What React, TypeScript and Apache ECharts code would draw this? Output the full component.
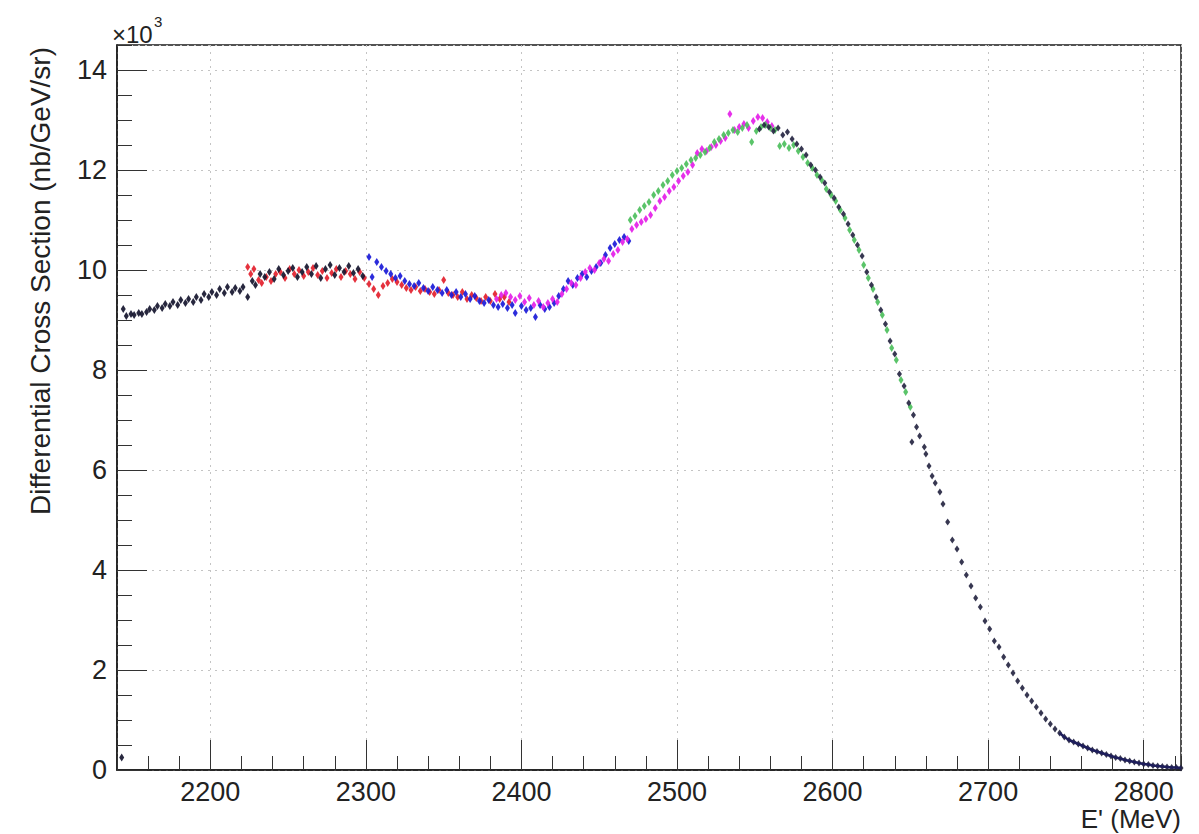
import React, { useEffect, useRef } from "react";
import * as echarts from "echarts";

const X_MIN = 2140;
const X_MAX = 2824;
const Y_MIN = 0;
const Y_MAX = 14.5;
const Y_TICK_STEP = 2;
const Y_MINOR_STEP = 0.5;
const X_MINOR_STEP = 20;

const xTitle = "E' (MeV)";
const yTitle = "Differential Cross Section (nb/GeV/sr)";
const yExponentBase = "\u00d710";
const yExponent = "3";

// values in units of 10^3 nb/GeV/sr
const blackLeft: [number, number][] = [
  [2143, 0.25],
  [2144, 9.22], [2146, 9.08], [2149, 9.12], [2151, 9.1], [2154, 9.14], [2156, 9.12], [2159, 9.16],
  [2161, 9.22], [2164, 9.2], [2166, 9.28], [2169, 9.24], [2171, 9.32], [2174, 9.28], [2176, 9.36],
  [2179, 9.3], [2181, 9.4], [2184, 9.34], [2186, 9.42], [2189, 9.36], [2191, 9.46], [2194, 9.4],
  [2196, 9.52], [2199, 9.46], [2201, 9.56], [2204, 9.5], [2206, 9.62], [2209, 9.54], [2211, 9.66],
  [2214, 9.56], [2216, 9.64], [2219, 9.58], [2221, 9.66], [2224, 9.46], [2227, 9.78], [2229, 9.7],
  [2232, 9.92], [2235, 9.86], [2238, 9.96], [2241, 9.82], [2244, 10.02], [2247, 9.9], [2250, 9.98],
  [2253, 10.04], [2256, 9.86], [2259, 9.96], [2262, 10.06], [2265, 9.92], [2268, 10.08], [2271, 9.84],
  [2274, 10.02], [2277, 10.1], [2280, 9.9], [2283, 10.04], [2286, 9.96], [2289, 10.08], [2292, 9.94],
  [2295, 10.02], [2298, 9.88],
];

const redSet: [number, number][] = [
  [2224, 10.06], [2226, 9.92], [2228, 10.02], [2231, 9.8], [2233, 9.74], [2236, 9.86], [2239, 9.78],
  [2242, 9.92], [2245, 9.96], [2248, 9.84], [2251, 10.02], [2254, 9.92], [2257, 10.0], [2260, 9.88],
  [2263, 9.96], [2266, 10.04], [2269, 9.9], [2272, 9.98], [2275, 9.84], [2278, 9.94], [2281, 10.02],
  [2284, 9.86], [2287, 9.98], [2290, 9.92], [2293, 9.82], [2296, 9.96], [2299, 9.84], [2302, 9.72],
  [2305, 9.62], [2308, 9.5], [2311, 9.68], [2314, 9.74], [2317, 9.82], [2320, 9.76], [2323, 9.7],
  [2326, 9.64], [2329, 9.6], [2332, 9.66], [2335, 9.58], [2338, 9.62], [2341, 9.56], [2344, 9.52],
  [2347, 9.6], [2350, 9.8], [2353, 9.54], [2356, 9.5], [2359, 9.46], [2362, 9.56], [2365, 9.42],
  [2368, 9.5], [2371, 9.44], [2374, 9.38], [2377, 9.46], [2380, 9.38], [2383, 9.52], [2386, 9.42],
  [2389, 9.46], [2392, 9.36],
];

const blueSet: [number, number][] = [
  [2302, 10.26], [2304, 9.86], [2307, 10.16], [2310, 10.06], [2313, 9.98], [2316, 9.92], [2319, 9.84],
  [2322, 9.88], [2325, 9.78], [2328, 9.72], [2331, 9.68], [2334, 9.74], [2337, 9.64], [2340, 9.58],
  [2343, 9.66], [2346, 9.6], [2349, 9.54], [2352, 9.6], [2355, 9.5], [2358, 9.56], [2361, 9.46],
  [2364, 9.52], [2367, 9.42], [2370, 9.48], [2373, 9.38], [2376, 9.34], [2379, 9.4], [2382, 9.3],
  [2385, 9.26], [2388, 9.32], [2391, 9.24], [2394, 9.3], [2396, 9.14], [2400, 9.28], [2403, 9.2],
  [2406, 9.24], [2409, 9.06], [2412, 9.3], [2415, 9.22], [2418, 9.26], [2421, 9.34], [2424, 9.48],
  [2427, 9.62], [2430, 9.78], [2433, 9.7], [2436, 9.84], [2439, 9.92], [2442, 9.86], [2445, 9.98],
  [2448, 10.06], [2451, 10.14], [2454, 10.3], [2457, 10.44], [2460, 10.52], [2463, 10.6], [2466, 10.66],
  [2469, 10.58],
];

const magentaSet: [number, number][] = [
  [2384, 9.42], [2387, 9.5], [2390, 9.54], [2393, 9.46], [2396, 9.4], [2399, 9.48], [2402, 9.36],
  [2405, 9.44], [2408, 9.3], [2411, 9.38], [2414, 9.26], [2417, 9.34], [2420, 9.42], [2423, 9.36],
  [2426, 9.52], [2429, 9.62], [2432, 9.74], [2435, 9.7], [2438, 9.84], [2441, 9.96], [2444, 10.04],
  [2447, 10.0], [2450, 10.14], [2453, 10.22], [2456, 10.18], [2459, 10.32], [2462, 10.4], [2465, 10.56],
  [2468, 10.62], [2471, 10.82], [2474, 10.9], [2477, 10.96], [2480, 11.02], [2483, 11.1], [2486, 11.24],
  [2489, 11.38], [2492, 11.46], [2495, 11.58], [2498, 11.66], [2501, 11.78], [2504, 11.88], [2507, 11.96],
  [2510, 12.1], [2513, 12.34], [2516, 12.42], [2519, 12.38], [2522, 12.46], [2525, 12.5], [2528, 12.58],
  [2531, 12.64], [2534, 13.12], [2537, 12.8], [2540, 12.86], [2543, 12.92], [2546, 12.84], [2549, 12.98],
  [2552, 13.06], [2555, 13.04], [2558, 12.96], [2561, 12.88],
];

const greenSet: [number, number][] = [
  [2470, 11.0], [2473, 11.08], [2476, 11.2], [2479, 11.28], [2482, 11.36], [2485, 11.5], [2488, 11.58],
  [2491, 11.7], [2494, 11.78], [2497, 11.9], [2500, 11.98], [2503, 12.04], [2506, 12.12], [2509, 12.2],
  [2512, 12.24], [2515, 12.3], [2518, 12.36], [2521, 12.44], [2524, 12.56], [2527, 12.62], [2530, 12.7],
  [2533, 12.74], [2536, 12.8], [2539, 12.76], [2542, 12.84], [2545, 12.9], [2548, 12.56], [2551, 12.78],
  [2554, 12.86], [2557, 12.9], [2560, 12.84], [2563, 12.8], [2566, 12.48], [2569, 12.52], [2572, 12.44],
  [2575, 12.5], [2578, 12.38], [2581, 12.26], [2584, 12.14], [2587, 12.04], [2590, 11.9], [2593, 11.8],
  [2596, 11.62], [2599, 11.5], [2602, 11.38], [2605, 11.2], [2608, 11.04], [2611, 10.8], [2614, 10.6],
  [2617, 10.4], [2620, 10.1], [2623, 9.84], [2626, 9.62], [2629, 9.36], [2632, 9.1], [2635, 8.8],
  [2638, 8.44], [2641, 8.2], [2644, 7.8], [2647, 7.56], [2650, 7.26],
];

const darkRight: [number, number][] = [
  [2553, 12.82], [2556, 12.9], [2559, 12.86], [2562, 12.78], [2565, 12.84], [2568, 12.7], [2571, 12.76],
  [2574, 12.62], [2577, 12.52], [2580, 12.42], [2583, 12.3], [2586, 12.1], [2589, 12.0], [2592, 11.86],
  [2595, 11.74], [2598, 11.56], [2601, 11.44], [2604, 11.26], [2607, 11.12], [2610, 10.92], [2613, 10.7],
  [2616, 10.5], [2619, 10.28], [2622, 9.96], [2625, 9.7], [2628, 9.46], [2631, 9.2], [2634, 8.92],
  [2637, 8.58], [2640, 8.32], [2643, 7.92], [2646, 7.68], [2649, 7.34], [2651, 6.56], [2652, 7.1],
  [2654, 6.86], [2656, 6.68], [2659, 6.46], [2660, 6.32], [2662, 6.08], [2664, 5.88], [2666, 5.74],
  [2669, 5.56], [2671, 5.32], [2674, 4.96], [2677, 4.6], [2680, 4.42], [2683, 4.16], [2686, 3.9],
  [2689, 3.68], [2692, 3.44], [2695, 3.26], [2698, 2.98], [2701, 2.82], [2704, 2.58], [2707, 2.46],
  [2710, 2.26], [2713, 2.1], [2716, 1.94], [2719, 1.78], [2722, 1.64], [2725, 1.5], [2728, 1.38],
  [2731, 1.26], [2734, 1.14], [2737, 1.02], [2740, 0.92], [2743, 0.82], [2746, 0.74], [2749, 0.66],
  [2752, 0.6], [2755, 0.56], [2758, 0.52], [2761, 0.48], [2764, 0.44], [2767, 0.4], [2770, 0.37],
  [2773, 0.34], [2776, 0.31], [2779, 0.28], [2782, 0.25], [2785, 0.23], [2788, 0.2], [2791, 0.18],
  [2794, 0.16], [2797, 0.14], [2800, 0.12], [2803, 0.11], [2806, 0.09], [2809, 0.08], [2812, 0.07],
  [2815, 0.06], [2818, 0.05], [2821, 0.05], [2824, 0.04],
];

const TAIL_START = 2745;

const FONT = '"Liberation Sans", Arial, Helvetica, sans-serif';
const TEXT_COLOR = "#222";

function scatter(name: string, data: [number, number][], color: string, size: number[] | number, symbol = "diamond") {
  return {
    name,
    type: "scatter",
    data,
    symbol,
    symbolSize: size,
    itemStyle: { color, opacity: 0.92 },
    xAxisIndex: 0,
    yAxisIndex: 0,
    silent: true,
    z: 3,
  };
}

export default function App() {
  const ref = useRef<HTMLDivElement>(null);
  useEffect(() => {
    const chart = echarts.init(ref.current as HTMLDivElement, null, { renderer: "svg" });
    const tickLabel = {
      fontSize: 27,
      fontFamily: FONT,
      color: TEXT_COLOR,
      formatter: (v: number) => String(v),
    };
    const option: any = {
      animation: false,
      backgroundColor: "#ffffff",
      grid: {
        left: 117,
        right: 18,
        top: 45,
        bottom: 64,
        show: true,
        borderColor: "#1a1a1a",
        borderWidth: 1.5,
        backgroundColor: "transparent",
      },
      xAxis: [
        {
          type: "value",
          position: "bottom",
          min: X_MIN,
          max: X_MAX,
          splitNumber: 7,
          axisLine: { show: true, onZero: false, lineStyle: { color: "#1a1a1a", width: 1.5 } },
          axisTick: { show: true, inside: true, length: 30, lineStyle: { color: "#333", width: 1 } },
          axisLabel: { ...tickLabel, margin: 8, lineHeight: 27, showMinLabel: false, showMaxLabel: false },
          splitLine: { show: true, lineStyle: { color: "#c4c4c4", width: 1, type: [2, 5] } },
        },
        {
          type: "value",
          position: "bottom",
          min: X_MIN,
          max: X_MAX,
          interval: X_MINOR_STEP,
          axisLine: { show: false },
          axisTick: { show: true, inside: true, length: 14, lineStyle: { color: "#333", width: 1 } },
          axisLabel: { show: false },
          splitLine: { show: false },
        },
      ],
      yAxis: [
        {
          type: "value",
          position: "left",
          min: Y_MIN,
          max: Y_MAX,
          interval: Y_TICK_STEP,
          axisLine: { show: true, onZero: false, lineStyle: { color: "#1a1a1a", width: 1.5 } },
          axisTick: { show: true, inside: true, length: 30, lineStyle: { color: "#333", width: 1 } },
          axisLabel: { ...tickLabel, margin: 10, showMaxLabel: false },
          splitLine: { show: true, lineStyle: { color: "#c4c4c4", width: 1, type: [2, 5] } },
        },
        {
          type: "value",
          position: "left",
          min: Y_MIN,
          max: Y_MAX,
          interval: Y_MINOR_STEP,
          axisLine: { show: false },
          axisTick: { show: true, inside: true, length: 15, lineStyle: { color: "#333", width: 1 } },
          axisLabel: { show: false },
          splitLine: { show: false },
        },
      ],
      graphic: [
        {
          type: "text",
          x: 40,
          y: 47,
          rotation: Math.PI / 2,
          style: {
            text: yTitle,
            font: `28px ${FONT}`,
            fill: TEXT_COLOR,
            align: "right",
            textAlign: "right",
            verticalAlign: "middle",
            textVerticalAlign: "middle",
          },
        },
        {
          type: "text",
          x: 1181,
          y: 819,
          style: {
            text: xTitle,
            font: `26px ${FONT}`,
            fill: TEXT_COLOR,
            align: "right",
            textAlign: "right",
            verticalAlign: "middle",
            textVerticalAlign: "middle",
          },
        },
        {
          type: "text",
          x: 112,
          y: 34,
          style: {
            text: yExponentBase,
            font: `24px ${FONT}`,
            fill: TEXT_COLOR,
            align: "left",
            textAlign: "left",
            verticalAlign: "middle",
            textVerticalAlign: "middle",
          },
        },
        {
          type: "text",
          x: 154,
          y: 21,
          style: {
            text: yExponent,
            font: `15px ${FONT}`,
            fill: TEXT_COLOR,
            align: "left",
            textAlign: "left",
            verticalAlign: "middle",
            textVerticalAlign: "middle",
          },
        },
      ],
      series: [
        scatter("red", redSet, "#e3202c", [5, 8]),
        scatter("black", blackLeft, "#15152e", [5, 8]),
        scatter("blue", blueSet, "#1a1ad8", [5, 8]),
        scatter("magenta", magentaSet, "#e41ee8", [5, 8]),
        scatter("green", greenSet, "#4cbf5c", [5, 8]),
        scatter("dark", darkRight, "#262642", [5, 7]),
        {
          name: "tail",
          type: "line",
          data: darkRight.filter((p) => p[0] >= TAIL_START),
          showSymbol: false,
          symbol: "none",
          lineStyle: { color: "#1e1e5c", width: 2.5 },
          xAxisIndex: 0,
          yAxisIndex: 0,
          silent: true,
          z: 4,
        },
      ],
    };
    chart.setOption(option);
    return () => chart.dispose();
  }, []);
  return (
    <div
      ref={ref}
      style={{ position: "fixed", left: 0, top: 0, width: 1199, height: 834, background: "#fff" }}
    />
  );
}
